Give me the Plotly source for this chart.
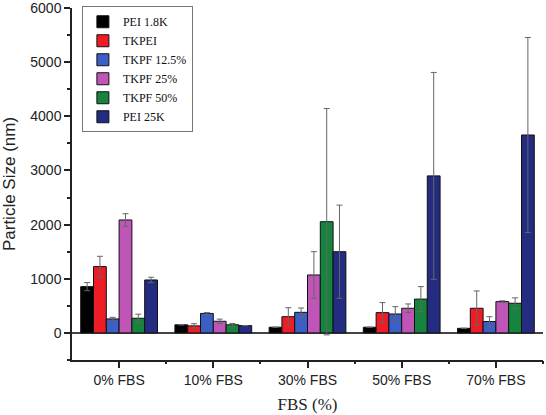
import plotly.graph_objects as go

categories = ["0% FBS", "10% FBS", "30% FBS", "50% FBS", "70% FBS"]
series_names = ["PEI 1.8K", "TKPEI", "TKPF 12.5%", "TKPF 25%", "TKPF 50%", "PEI 25K"]

pei18k = [855, 150, 105, 105, 85]
pei18k_err = [75, 0, 0, 0, 0]
tkpei = [1225, 130, 300, 375, 455]
tkpei_err = [190, 40, 165, 185, 320]
tkpf125 = [258, 360, 380, 350, 210]
tkpf125_err = [30, 15, 80, 135, 90]
tkpf25 = [2086, 215, 1070, 455, 578]
tkpf25_err = [115, 40, 430, 80, 15]
tkpf50 = [271, 150, 2054, 625, 548]
tkpf50_err = [75, 25, 2090, 230, 100]
pei25k = [978, 135, 1500, 2900, 3655]
pei25k_err = [50, 0, 860, 1910, 1800]

values = [pei18k, tkpei, tkpf125, tkpf25, tkpf50, pei25k]
errors = [pei18k_err, tkpei_err, tkpf125_err, tkpf25_err, tkpf50_err, pei25k_err]
colors = ["#000000", "#ee1c24", "#3b5fc4", "#c055b8", "#16843e", "#232c80"]

fig = go.Figure()
for name, v, e, c in zip(series_names, values, errors, colors):
    fig.add_trace(go.Bar(
        x=categories, y=v, name=name,
        marker=dict(color=c, line=dict(color="#111111", width=1)),
        error_y=dict(type="data", array=e, visible=True, color="#666666",
                     thickness=1, width=3),
    ))

# overlay axis only for the minor boundary ticks between groups
fig.add_trace(go.Scatter(x=[-0.5, 4.5], y=[0, 0], xaxis="x2", mode="lines",
                         line=dict(width=0), showlegend=False, hoverinfo="skip"))

fig.update_layout(
    width=546, height=415,
    margin=dict(l=72, r=3, t=8, b=55),
    paper_bgcolor="white", plot_bgcolor="white",
    barmode="group", bargap=0.185, bargroupgap=0,
    font=dict(family="Liberation Sans, Arial", color="#222222"),
    showlegend=True,
    legend=dict(
        x=0.021, y=1.005, xanchor="left", yanchor="top",
        bordercolor="#777777", borderwidth=1, bgcolor="white",
        font=dict(family="Liberation Serif, Times New Roman", size=12, color="#111111"),
        tracegroupgap=0, itemwidth=30,
    ),
    xaxis=dict(
        type="category", range=[-0.5, 4.5], automargin=False,
        showline=True, linecolor="#222222", linewidth=1.5,
        ticks="outside", ticklen=6, tickwidth=1.5, tickcolor="#222222",
        tickfont=dict(size=14, family="Liberation Sans, Arial"),
        title=dict(text="FBS (%)", font=dict(family="Liberation Serif, Times New Roman", size=17), standoff=12),
        showgrid=False, zeroline=False,
    ),
    xaxis2=dict(
        overlaying="x", side="bottom", range=[-0.5, 4.5], automargin=False,
        tickvals=[0.5, 1.5, 2.5, 3.5, 4.5], showticklabels=False,
        ticks="outside", ticklen=3, tickwidth=1.5, tickcolor="#222222",
        showgrid=False, zeroline=False, showline=False,
    ),
    yaxis=dict(
        range=[-500, 6000], tickvals=[0, 1000, 2000, 3000, 4000, 5000, 6000],
        automargin=False, ticklabeloverflow="allow",
        showline=True, linecolor="#222222", linewidth=1.5,
        ticks="outside", ticklen=6, tickwidth=1.5, tickcolor="#222222",
        minor=dict(dtick=500, tick0=0, ticks="outside", ticklen=3, tickwidth=1.5, tickcolor="#222222"),
        tickfont=dict(size=14, family="Liberation Sans, Arial"),
        title=dict(text="Particle Size (nm)", font=dict(size=17, family="Liberation Sans, Arial"), standoff=12),
        showgrid=False,
        zeroline=True, zerolinecolor="#444444", zerolinewidth=1.5,
    ),
)

fig.write_html("out.html", config={"displayModeBar": False},
               post_script="document.body.style.margin='0';")
